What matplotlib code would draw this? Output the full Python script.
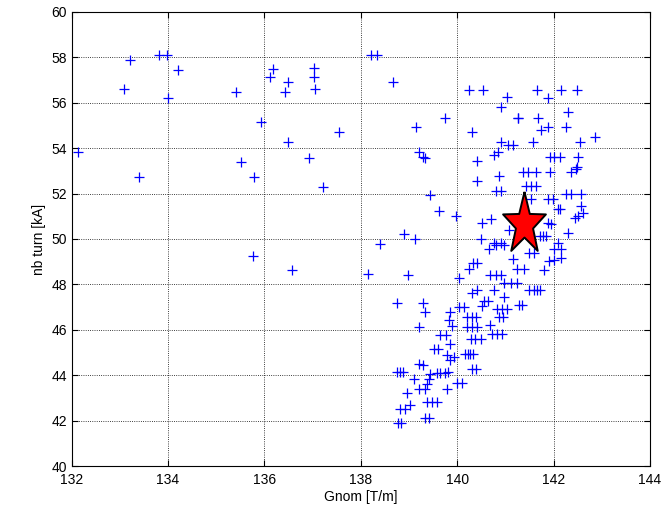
import numpy as np
import matplotlib

matplotlib.use("Agg")
import matplotlib.pyplot as plt

plt.rcParams["font.family"] = ["Liberation Sans", "DejaVu Sans"]

# scan points: gradient vs number of ampere-turns
gnom = [
    # sparse upper-left part
    132.13, 133.09, 133.21, 133.40, 133.81, 133.97, 134.20, 133.99, 135.41, 135.51,
    135.78, 135.92, 136.11, 136.18, 136.42, 136.49, 136.49, 136.92, 137.03, 137.03,
    137.05, 137.21, 137.55, 135.76, 136.58, 138.21, 138.33, 138.66, 138.40, 138.14,
    # upper-right cluster
    140.24, 140.54, 141.04, 140.92, 141.65, 141.88, 142.15, 142.49, 142.31, 141.26,
    141.27, 141.68, 141.74, 141.88, 142.26, 139.74, 139.15, 140.31, 142.54, 142.86,
    141.57, 140.91, 141.05, 141.15, 140.84, 140.77, 139.20, 139.29, 139.34, 140.42,
    141.92, 142.02, 142.13, 142.51, 142.49, 142.37, 142.47, 141.36, 141.48, 141.64,
    141.92, 140.87, 140.42, 141.43, 141.53, 141.64, 140.80, 140.91, 139.43, 139.62,
    139.97, 141.88, 141.99, 142.26, 142.37, 142.58, 141.53, 142.09, 142.14, 142.58,
    142.61, 142.51, 142.44, 140.70, 140.52, 141.88, 141.95, 142.30, 140.49, 140.77,
    140.91, 141.71, 141.78, 141.85, 142.09, 141.08, 138.89, 139.13, 140.66, 142.01,
    141.49, 141.60, 141.15, 141.91, 142.00, 142.15, 140.33, 140.42, 140.24, 141.25,
    141.38, 141.81, 138.99, 140.69, 140.80, 140.90, 140.03, 140.97, 141.11, 141.25,
    141.49, 141.60, 141.72, 141.66, 140.30, 140.42, 140.76, 138.75, 139.29, 140.97,
    142.15, 140.80, 140.97,
    # lower band
    141.28, 141.35, 140.56, 140.64, 140.52, 140.83, 140.94, 141.04, 140.03, 140.14,
    139.86, 139.34, 140.21, 140.31, 140.40, 139.83, 140.87, 140.96, 140.69, 139.20,
    139.90, 140.21, 140.31, 140.42, 140.73, 140.83, 140.94, 139.65, 139.76, 140.28,
    140.38, 140.49, 139.86, 139.51, 139.60, 140.17, 140.26, 140.33, 140.22, 139.79,
    139.85, 139.93, 140.31, 140.40, 138.75, 138.82, 138.88, 139.20, 139.29, 139.58,
    139.65, 139.74, 139.80, 139.44, 139.10, 139.41, 139.38, 140.00, 140.10, 139.79,
    139.20, 139.34, 138.96, 139.38, 139.48, 139.58, 139.03, 138.92, 138.82, 139.34,
    139.41, 138.78, 138.83,
]
nb_turn = [
    53.85, 56.60, 57.89, 52.74, 58.10, 58.10, 57.44, 56.22, 56.45, 53.41,
    52.74, 55.17, 57.12, 57.47, 56.45, 56.89, 54.29, 53.58, 57.52, 57.12,
    56.60, 52.28, 54.70, 49.27, 48.63, 58.10, 58.10, 56.89, 49.77, 48.46,
    56.56, 56.56, 56.23, 55.82, 56.56, 56.19, 56.56, 56.56, 55.60, 55.31,
    55.33, 55.31, 54.80, 54.92, 54.95, 55.31, 54.94, 54.70, 54.29, 54.50,
    54.28, 54.29, 54.12, 54.12, 53.85, 53.68, 53.84, 53.62, 53.55, 53.45,
    53.62, 53.62, 53.62, 53.62, 53.18, 52.96, 53.10, 52.96, 52.96, 52.96,
    52.96, 52.76, 52.56, 52.35, 52.35, 52.35, 52.12, 52.12, 51.94, 51.25,
    51.01, 51.74, 51.74, 51.96, 51.96, 51.96, 51.74, 51.30, 51.30, 51.45,
    51.15, 51.00, 50.93, 50.86, 50.69, 50.72, 50.64, 50.28, 49.99, 49.84,
    49.84, 50.13, 50.13, 50.13, 49.84, 50.40, 50.22, 49.99, 49.55, 49.55,
    49.37, 49.37, 49.10, 49.05, 49.08, 49.15, 48.93, 48.93, 48.67, 48.67,
    48.67, 48.64, 48.42, 48.42, 48.42, 48.42, 48.27, 48.08, 48.08, 48.08,
    47.76, 47.76, 47.76, 47.76, 47.61, 47.76, 47.76, 47.17, 47.17, 47.44,
    49.56, 49.74, 49.74,
    47.10, 47.10, 47.29, 47.29, 47.07, 46.92, 46.92, 46.92, 46.99, 46.99,
    46.80, 46.77, 46.55, 46.55, 46.55, 46.41, 46.55, 46.55, 46.22, 46.11,
    46.16, 46.11, 46.11, 46.11, 45.82, 45.82, 45.82, 45.75, 45.75, 45.60,
    45.60, 45.60, 45.38, 45.16, 45.16, 44.94, 44.94, 44.94, 44.94, 44.87,
    44.65, 44.79, 44.28, 44.28, 44.16, 44.16, 44.16, 44.50, 44.43, 44.10,
    44.10, 44.10, 44.13, 44.06, 43.84, 43.84, 43.62, 43.67, 43.67, 43.40,
    43.40, 43.40, 43.22, 42.82, 42.82, 42.80, 42.67, 42.52, 42.52, 42.11,
    42.11, 41.90, 41.90,
]
# selected working point (red star)
best_gnom = [141.38]
best_nb_turn = [50.65]

x_ticks = [132, 134, 136, 138, 140, 142, 144]
y_ticks = [40, 42, 44, 46, 48, 50, 52, 54, 56, 58, 60]

# MATLAB-like pentagram, a bit taller than wide
ang = np.pi / 2 + np.arange(10) * np.pi / 5
rad = np.where(np.arange(10) % 2 == 0, 1.0, 0.40)
star = list(zip(rad * np.cos(ang), 1.45 * rad * np.sin(ang)))
star.append(star[0])

fig = plt.figure(figsize=(6.7, 5.15), dpi=100)
ax = fig.add_axes([0.107, 0.095, 0.863, 0.882])

ax.plot(gnom, nb_turn, "+", color="blue", ms=7.5, mew=0.9, linestyle="none")
ax.plot(best_gnom, best_nb_turn, marker=star, ms=47, color="red",
        mec="black", mew=1.4, linestyle="none")

ax.set_xlim(132, 144)
ax.set_ylim(40, 60)
ax.set_xticks(x_ticks)
ax.set_yticks(y_ticks)
ax.tick_params(direction="in", top=True, right=True, labelsize=10,
               length=4, width=0.8)
ax.tick_params(axis="x", pad=5)
ax.grid(True, color="black", linestyle=":", linewidth=0.6)
for sp in ax.spines.values():
    sp.set_linewidth(0.8)

ax.set_xlabel("Gnom [T/m]", fontsize=10, labelpad=2)
ax.set_ylabel("nb turn [kA]", fontsize=10)

fig.savefig("out.png", dpi=100)
